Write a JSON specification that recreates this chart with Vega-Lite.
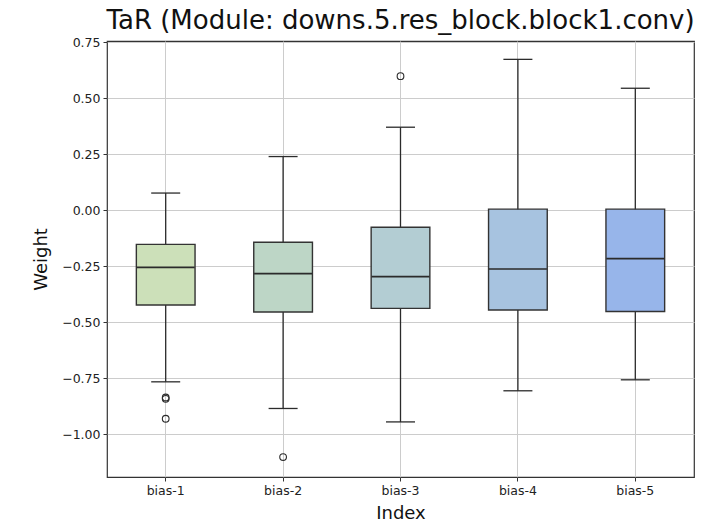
{
  "$schema": "https://vega.github.io/schema/vega-lite/v6.json",
  "width": 587,
  "height": 436,
  "autosize": {"type": "none"},
  "padding": {"left": 107, "top": 41, "right": 30, "bottom": 45},
  "background": "white",
  "config": {
    "font": "DejaVu Sans",
    "view": {"stroke": "#333333", "strokeWidth": 1.2},
    "axis": {
      "grid": true,
      "gridColor": "#cccccc",
      "gridWidth": 1,
      "domain": false,
      "tickColor": "#333333",
      "tickSize": 4,
      "labelFont": "DejaVu Sans",
      "labelFontSize": 12.5,
      "labelColor": "#222222",
      "titleFont": "DejaVu Sans",
      "titleFontSize": 18,
      "titleFontWeight": "normal",
      "titleColor": "#111111"
    }
  },
  "title": {
    "text": "TaR (Module: downs.5.res_block.block1.conv)",
    "font": "DejaVu Sans",
    "fontSize": 26,
    "fontWeight": "normal",
    "color": "#111111",
    "anchor": "middle",
    "offset": 2
  },
  "datasets": {
    "boxes": [
      {"idx": "bias-1", "lower": -0.767, "q1": -0.424, "median": -0.256, "q3": -0.153, "upper": 0.076},
      {"idx": "bias-2", "lower": -0.886, "q1": -0.455, "median": -0.284, "q3": -0.144, "upper": 0.239},
      {"idx": "bias-3", "lower": -0.946, "q1": -0.439, "median": -0.297, "q3": -0.077, "upper": 0.370},
      {"idx": "bias-4", "lower": -0.807, "q1": -0.446, "median": -0.263, "q3": 0.004, "upper": 0.673},
      {"idx": "bias-5", "lower": -0.758, "q1": -0.453, "median": -0.217, "q3": 0.004, "upper": 0.544}
    ],
    "outliers": [
      {"idx": "bias-1", "value": -0.837},
      {"idx": "bias-1", "value": -0.843},
      {"idx": "bias-1", "value": -0.932},
      {"idx": "bias-2", "value": -1.103},
      {"idx": "bias-3", "value": 0.598}
    ]
  },
  "encoding": {
    "x": {
      "field": "idx",
      "type": "nominal",
      "title": "Index",
      "scale": {"domain": ["bias-1", "bias-2", "bias-3", "bias-4", "bias-5"], "paddingInner": 0, "paddingOuter": 0},
      "axis": {"labelAngle": 0, "titlePadding": 8, "labelPadding": 3}
    }
  },
  "layer": [
    {
      "data": {"name": "boxes"},
      "mark": {"type": "rule", "color": "#2b2b2b", "strokeWidth": 1.3},
      "encoding": {
        "y": {
          "field": "lower",
          "type": "quantitative",
          "title": "Weight",
          "scale": {"domain": [-1.192, 0.755], "nice": false, "zero": false},
          "axis": {"values": [-1.0, -0.75, -0.5, -0.25, 0.0, 0.25, 0.5, 0.75], "format": ".2f", "titlePadding": 11, "labelPadding": 3}
        },
        "y2": {"field": "upper"}
      }
    },
    {
      "data": {"name": "boxes"},
      "mark": {"type": "bar", "width": {"band": 0.5}, "stroke": "#333333", "strokeWidth": 1.4},
      "encoding": {
        "y": {"field": "q1", "type": "quantitative"},
        "y2": {"field": "q3"},
        "color": {
          "field": "idx",
          "type": "nominal",
          "scale": {"domain": ["bias-1", "bias-2", "bias-3", "bias-4", "bias-5"], "range": ["#cce0b9", "#bdd6c6", "#b3cdd3", "#a7c3e0", "#97b5ea"]},
          "legend": null
        }
      }
    },
    {
      "data": {"name": "boxes"},
      "mark": {"type": "tick", "color": "#2b2b2b", "size": 58, "thickness": 1.6, "opacity": 1},
      "encoding": {"y": {"field": "median", "type": "quantitative"}}
    },
    {
      "data": {"name": "boxes"},
      "mark": {"type": "tick", "color": "#2b2b2b", "size": 29, "thickness": 1.3, "opacity": 1},
      "encoding": {"y": {"field": "lower", "type": "quantitative"}}
    },
    {
      "data": {"name": "boxes"},
      "mark": {"type": "tick", "color": "#2b2b2b", "size": 29, "thickness": 1.3, "opacity": 1},
      "encoding": {"y": {"field": "upper", "type": "quantitative"}}
    },
    {
      "data": {"name": "outliers"},
      "mark": {"type": "point", "shape": "circle", "filled": false, "stroke": "#2b2b2b", "strokeWidth": 1.1, "size": 45, "opacity": 1},
      "encoding": {"y": {"field": "value", "type": "quantitative"}}
    }
  ]
}
